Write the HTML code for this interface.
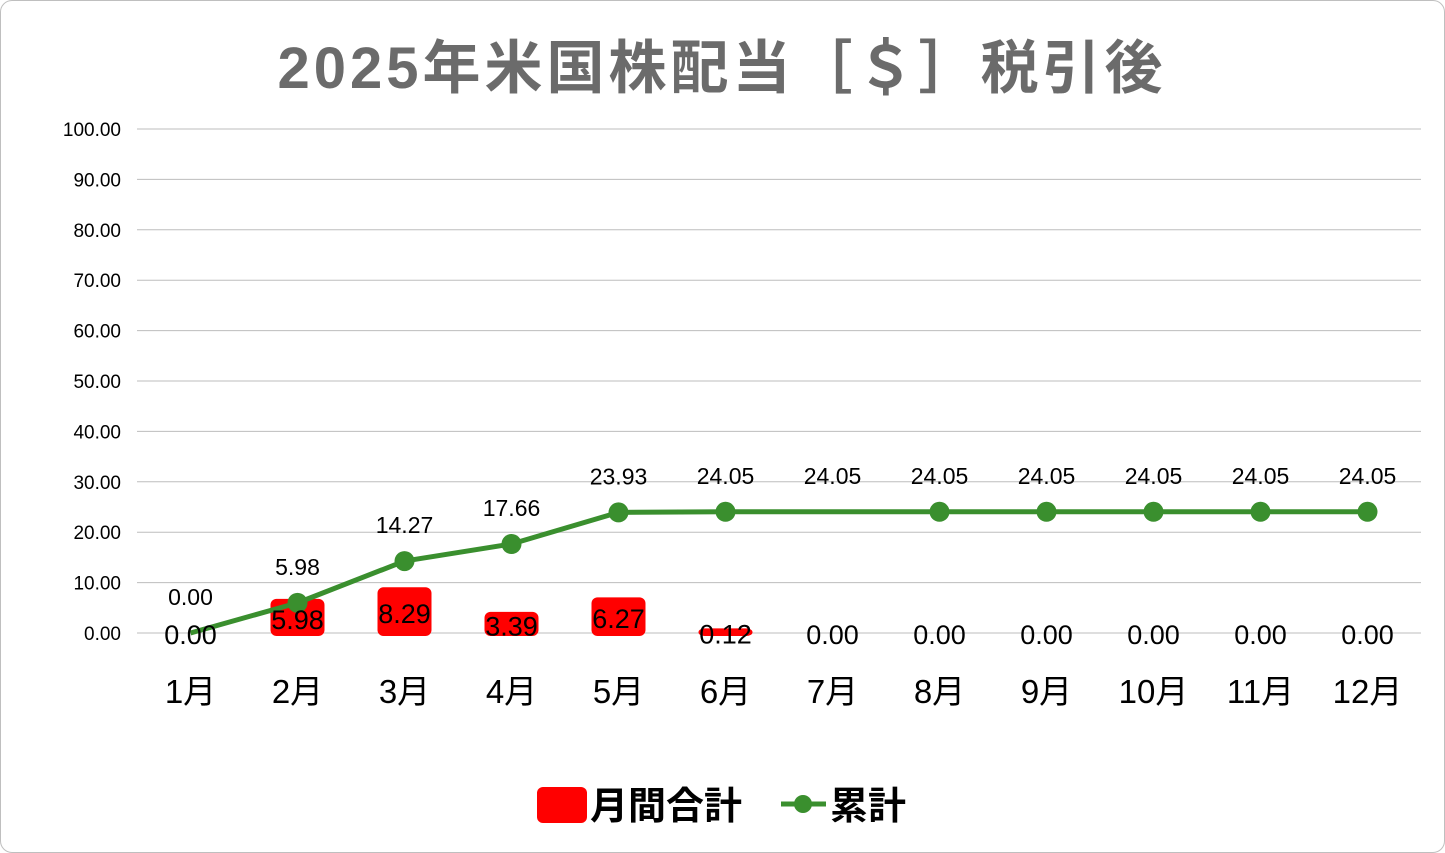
<!DOCTYPE html>
<html><head><meta charset="utf-8">
<style>
html,body{margin:0;padding:0;background:#fff;}
body{width:1445px;height:853px;overflow:hidden;font-family:"Liberation Sans","Noto Sans CJK JP",sans-serif;}
#frame{position:absolute;left:0;top:0;width:1443px;height:851px;border:1px solid #bfbfbf;border-radius:12px;}
</style></head>
<body>
<div id="frame"></div>
<svg id="chart" width="1445" height="853" style="position:absolute;left:0;top:0">
<text x="722" y="88" text-anchor="middle" font-size="58" font-weight="bold" letter-spacing="4" fill="#6b6b6b" font-family="Liberation Sans, Noto Sans CJK JP, sans-serif">2025年米国株配当［＄］税引後</text>
<g id="grid"></g><g id="yaxis"></g><g id="xaxis"></g><g id="bars"></g><g id="line"></g><g id="labels"></g>
<g>
<rect x="537" y="787" width="50" height="36" rx="6" fill="#ff0000"/>
<text x="590" y="819" font-size="38" font-weight="bold" fill="#000">月間合計</text>
<line x1="781" y1="804" x2="826" y2="804" stroke="#3a8f2e" stroke-width="5"/>
<circle cx="803" cy="804" r="9" fill="#3a8f2e"/>
<text x="830" y="819" font-size="38" font-weight="bold" fill="#000">累計</text>
</g>
</svg>
<script>
const categories=["1月","2月","3月","4月","5月","6月","7月","8月","9月","10月","11月","12月"];
const monthly=[0,5.98,8.29,3.39,6.27,0.12,0,0,0,0,0,0];
const cumulative=[0,5.98,14.27,17.66,23.93,24.05,24.05,24.05,24.05,24.05,24.05,24.05];
const yTicks=[0,10,20,30,40,50,60,70,80,90,100];
const NS="http://www.w3.org/2000/svg";
const L=137,R=1421,T=129,B=633;
const y=v=>B-(v/100)*(B-T);
const bw=(R-L)/categories.length;
const x=i=>L+bw*(i+0.5);
function mk(tag,attrs,parent){const e=document.createElementNS(NS,tag);for(const k in attrs)e.setAttribute(k,attrs[k]);document.getElementById(parent).appendChild(e);return e;}
yTicks.forEach(t=>{
 const g=mk('line',{x1:L,x2:R,y1:y(t),y2:y(t),stroke:'#bdbdbd','stroke-width':1},'grid');
 
 
 const tx=mk('text',{x:121,y:y(t)+7,'text-anchor':'end','font-size':19,fill:'#000'},'yaxis');
 tx.textContent=t.toFixed(2);
 
 
});
categories.forEach((c,i)=>{
 const tx=mk('text',{x:x(i),y:703,'text-anchor':'middle','font-size':33,fill:'#000'},'xaxis');
 tx.textContent=c;
 
 
});
monthly.forEach((v,i)=>{
 const h=B-y(v);
 if(h>0){
  const r=mk('rect',{x:x(i)-27,y:y(v)-4,width:54,height:h+7,rx:6,fill:'#ff0000'},'bars');
  
  
 }
 const tx=mk('text',{x:x(i),y:Math.min(y(v)+h/2,B)+11,'text-anchor':'middle','font-size':27,fill:'#000'},'labels');
 tx.textContent=v.toFixed(2);
 
 
});
const pts=cumulative.map((v,i)=>x(i)+','+y(v)).join(' ');
const pl=mk('polyline',{points:pts,fill:'none',stroke:'#3a8f2e','stroke-width':5,'stroke-linejoin':'round'},'line');


cumulative.forEach((v,i)=>{
 if(i>0 && i!==6){
  const c=mk('circle',{cx:x(i),cy:y(v),r:10,fill:'#3a8f2e'},'line');
  
  
 }
 const tx=mk('text',{x:x(i),y:y(v)-28,'text-anchor':'middle','font-size':23,fill:'#000'},'labels');
 tx.textContent=v.toFixed(2);
 
 
});
</script>
</body></html>
